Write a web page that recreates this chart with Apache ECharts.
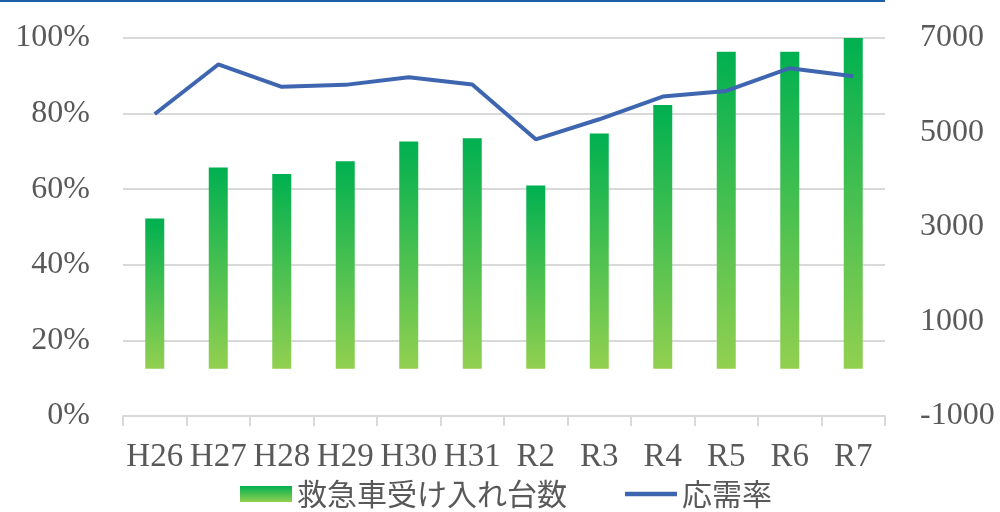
<!DOCTYPE html>
<html>
<head>
<meta charset="utf-8">
<script src="https://cdn.jsdelivr.net/npm/echarts@6/dist/echarts.min.js"></script>
<style>html,body{margin:0;padding:0;background:#fff;}#c{width:1000px;height:512px;}</style>
</head>
<body>
<div id="c"></div>
<script>
const categories = ['H26','H27','H28','H29','H30','H31','R2','R3','R4','R5','R6','R7'];
const acceptCounts = [3180, 4260, 4120, 4390, 4810, 4880, 3880, 4980, 5580, 6710, 6710, 7030];
const acceptRate = [0.799, 0.930, 0.871, 0.876, 0.896, 0.877, 0.732, 0.785, 0.845, 0.860, 0.920, 0.899];
const barName = '救急車受け入れ台数';
const lineName = '応需率';

const chart = echarts.init(document.getElementById('c'), null, {renderer: 'canvas'});
const serif = 'Liberation Serif';
const labelColor = '#595959';
const gridColor = '#d9d9d9';
const lineColor = '#3e66b0';

chart.setOption({
  animation: false,
  backgroundColor: '#ffffff',
  graphic: [{
    type: 'rect', left: 0, top: 0,
    shape: {width: 885, height: 2},
    style: {fill: '#1f5fa6'}
  }],
  grid: {left: 123, right: 115, top: 38, bottom: 96, containLabel: false},
  legend: {
    left: 240, top: 479, padding: 0,
    itemWidth: 52, itemHeight: 16, itemGap: 58,
    textStyle: {fontFamily: 'Noto Sans CJK JP', fontSize: 30, color: labelColor},
    data: [
      {name: barName, icon: 'rect'},
      {name: lineName, icon: 'path://M0,0 L52,0 L52,4.5 L0,4.5 Z', itemStyle: {color: lineColor}}
    ]
  },
  xAxis: {
    type: 'category',
    data: categories,
    boundaryGap: true,
    axisLine: {show: true, lineStyle: {color: gridColor, width: 2}},
    axisTick: {show: true, length: 10, lineStyle: {color: gridColor, width: 2}},
    axisLabel: {interval: 0, margin: 25, fontFamily: serif, fontSize: 33, color: labelColor}
  },
  yAxis: [{
    type: 'value', min: 0, max: 1, interval: 0.2,
    axisLine: {show: false}, axisTick: {show: false},
    splitLine: {show: true, lineStyle: {color: gridColor, width: 2}},
    axisLabel: {margin: 33, fontFamily: serif, fontSize: 32, color: labelColor,
      formatter: v => Math.round(v * 100) + '%'}
  }, {
    type: 'value', min: -1000, max: 7000, interval: 2000,
    position: 'right',
    axisLine: {show: false}, axisTick: {show: false},
    splitLine: {show: false},
    axisLabel: {margin: 35, fontFamily: serif, fontSize: 32, color: labelColor,
      formatter: v => String(v)}
  }],
  series: [{
    name: barName,
    type: 'bar',
    yAxisIndex: 1,
    data: acceptCounts,
    barWidth: 19,
    itemStyle: {
      color: new echarts.graphic.LinearGradient(0, 0, 0, 1, [
        {offset: 0, color: '#00b050'},
        {offset: 1, color: '#92d050'}
      ])
    }
  }, {
    name: lineName,
    type: 'line',
    yAxisIndex: 0,
    data: acceptRate,
    symbol: 'none',
    lineStyle: {color: lineColor, width: 4},
    itemStyle: {color: lineColor}
  }]
});
</script>
</body>
</html>
